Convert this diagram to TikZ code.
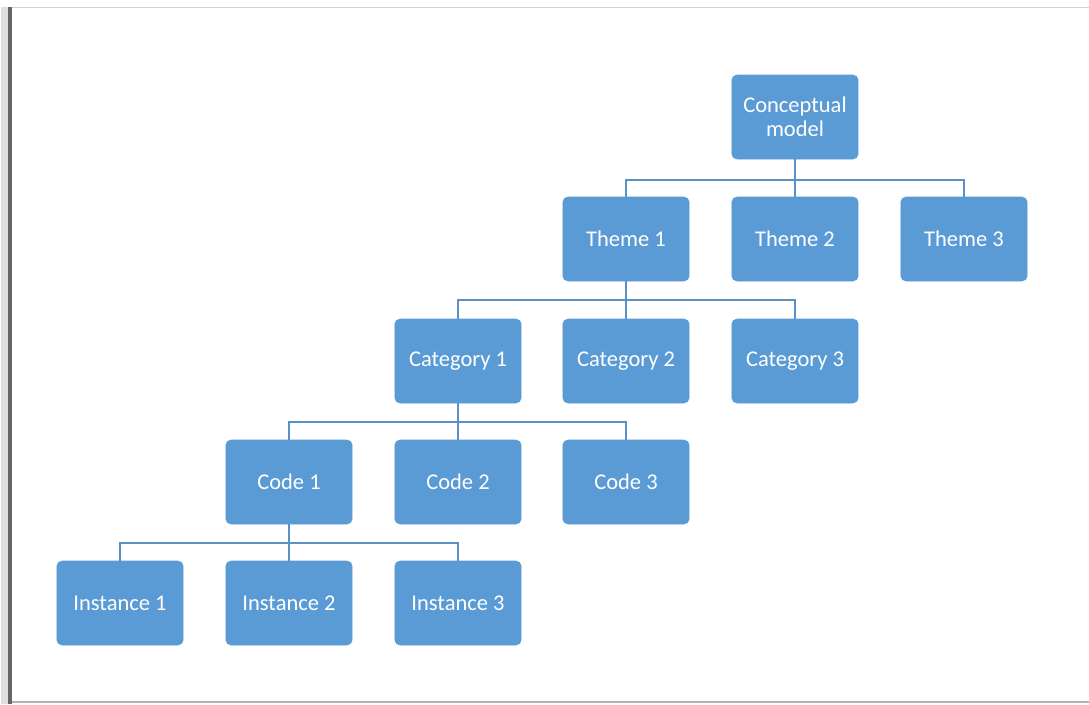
\documentclass[tikz,border=0pt]{standalone}
\usepackage{fontspec}
\setmainfont{Carlito}
\definecolor{cmblue}{HTML}{5B9BD5}
\definecolor{cmline}{HTML}{5890C8}
\definecolor{cmframe}{HTML}{8C8C8C}
\tikzset{
  box/.style={rectangle,rounded corners=1.3mm,fill=cmblue,draw=cmblue,minimum width=31.6mm,minimum height=21mm,inner sep=0pt,align=center,text=white,font=\fontsize{16}{17}\selectfont},
  link/.style={draw=cmline,line width=1.2pt},
  frame/.style={draw=cmframe,line width=.6pt},
}
\begin{document}
\begin{tikzpicture}[x=.25mm,y=-.25mm]
  \useasboundingbox (0,0) rectangle (1089,704);
  % page edge
  \draw[frame,draw=gray!35] (10,7) -- (1089,7);
  \draw[frame,draw=gray!60,line width=1pt] (10,702) -- (1089,702);
  \draw[frame,draw=gray!25,line width=2.2mm] (5,7) -- (5,704);
  \draw[frame,draw=gray!80!black,line width=.8mm] (10,7) -- (10,704);

  % levels
  \node[box] (cm) at (795,117) {Conceptual\\model};

  \node[box] (t1) at (626,239) {Theme 1};
  \node[box] (t2) at (795,239) {Theme 2};
  \node[box] (t3) at (964,239) {Theme 3};

  \node[box] (c1) at (458,361) {Category 1};
  \node[box] (c2) at (626,361) {Category 2};
  \node[box] (c3) at (795,361) {Category 3};

  \node[box] (k1) at (289,482) {Code 1};
  \node[box] (k2) at (458,482) {Code 2};
  \node[box] (k3) at (626,482) {Code 3};

  \node[box] (i1) at (120,603) {Instance 1};
  \node[box] (i2) at (289,603) {Instance 2};
  \node[box] (i3) at (458,603) {Instance 3};

  % connectors
  \foreach \c in {t1,t2,t3} \draw[link] (cm.south) -- ++(0,21) -| (\c.north);
  \foreach \c in {c1,c2,c3} \draw[link] (t1.south) -- ++(0,19) -| (\c.north);
  \foreach \c in {k1,k2,k3} \draw[link] (c1.south) -- ++(0,19) -| (\c.north);
  \foreach \c in {i1,i2,i3} \draw[link] (k1.south) -- ++(0,19) -| (\c.north);
\end{tikzpicture}
\end{document}
